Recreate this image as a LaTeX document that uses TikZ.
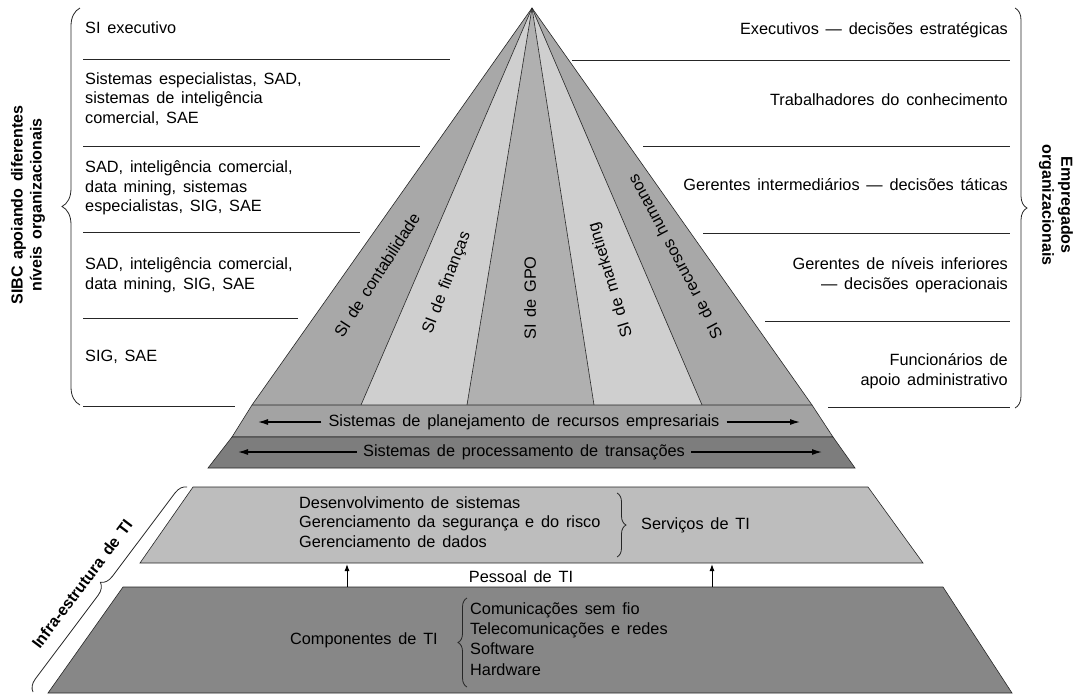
\documentclass[tikz,border=0pt]{standalone}
\usepackage{fontspec}
\setmainfont[WordSpace=1.5]{Liberation Sans}
\usetikzlibrary{arrows.meta,decorations.pathreplacing}

% grey tones of the layers
\definecolor{stripdark}{gray}{0.66}
\definecolor{striplight}{gray}{0.81}
\definecolor{stripmid}{gray}{0.69}
\definecolor{erpgray}{gray}{0.64}
\definecolor{tpsgray}{gray}{0.49}
\definecolor{svcgray}{gray}{0.74}
\definecolor{compgray}{gray}{0.53}
\definecolor{inkline}{gray}{0.15}

\begin{document}
\begin{tikzpicture}[x=1pt,y=-1pt,
  txt/.style={font=\fontsize{16.3}{19.5}\selectfont, inner sep=0pt},
  lbl/.style={txt, align=left, anchor=west},
  rlbl/.style={txt, align=right, anchor=east},
  bold/.style={font=\fontsize{16}{19}\selectfont\bfseries, inner sep=0pt, align=center},
  sepline/.style={draw=inkline, line width=0.8pt},
  edge/.style={draw=inkline, line width=0.6pt},
  bracefig/.style={draw=inkline, decorate, decoration={brace, amplitude=#1}, line width=0.8pt},
  arr/.style={-{Latex[length=10pt,width=6pt]}, line width=1.2pt},
  uparr/.style={-{Latex[length=7pt,width=5pt]}, line width=1pt},
]
\useasboundingbox (0,0) rectangle (1075,697);

% ---------- pyramid of functional systems ----------
\coordinate (apex) at (532,8);
\coordinate (b0) at (252,405);
\coordinate (b1) at (361,405);
\coordinate (b2) at (467,405);
\coordinate (b3) at (594,405);
\coordinate (b4) at (702,405);
\coordinate (b5) at (812,405);
\fill[stripdark]  (apex) -- (b0) -- (b1) -- cycle;
\fill[striplight] (apex) -- (b1) -- (b2) -- cycle;
\fill[stripmid]   (apex) -- (b2) -- (b3) -- cycle;
\fill[striplight] (apex) -- (b3) -- (b4) -- cycle;
\fill[stripdark]  (apex) -- (b4) -- (b5) -- cycle;
\foreach \b in {b1,b2,b3,b4} \draw[edge] (apex) -- (\b);
\draw[edge] (b0) -- (apex) -- (b5);

\node[txt, rotate=57]  (sicont) at (377,275) {SI de contabilidade};
\node[txt, rotate=69]  (sifin)  at (447,283) {SI de finanças};
\node[txt, rotate=90]  (sigpo)  at (530,298) {SI de GPO};
\node[txt, rotate=107] (simkt)  at (611,280) {SI de marketing};
\node[txt, rotate=118] (sirh)   at (675,257) {SI de recursos humanos};

% ---------- ERP and TPS bands ----------
\coordinate (e0) at (232,437);
\coordinate (e1) at (833,437);
\coordinate (t0) at (208,468);
\coordinate (t1) at (855,468);
\filldraw[fill=erpgray, edge] (b0) -- (b5) -- (e1) -- (e0) -- cycle;
\filldraw[fill=tpsgray, edge] (e0) -- (e1) -- (t1) -- (t0) -- cycle;

\node[txt, inner xsep=7pt] (erp) at (524,422) {Sistemas de planejamento de recursos empresariais};
\coordinate (erpL) at (258,422);
\coordinate (erpR) at (800,422);
\draw[arr] (erp.west) -- (erpL);
\draw[arr] (erp.east) -- (erpR);

\node[txt, inner xsep=6pt] (tps) at (524,452) {Sistemas de processamento de transações};
\coordinate (tpsL) at (238,452);
\coordinate (tpsR) at (822,452);
\draw[arr] (tps.west) -- (tpsL);
\draw[arr] (tps.east) -- (tpsR);

% ---------- left column: systems per level ----------
\draw[bracefig=18pt] (80,405) -- (80,8);
\node[bold, rotate=90] (sibc) at (28,205) {SIBC apoiando diferentes\\níveis organizacionais};

\node[lbl] (l1) at (85,28)  {SI executivo};
\node[lbl] (l2) at (85,99)  {Sistemas especialistas, SAD,\\sistemas de inteligência\\comercial, SAE};
\node[lbl] (l3) at (85,188) {SAD, inteligência comercial,\\data mining, sistemas\\especialistas, SIG, SAE};
\node[lbl] (l4) at (85,275) {SAD, inteligência comercial,\\data mining, SIG, SAE};
\node[lbl] (l5) at (85,357) {SIG, SAE};

\draw[sepline] (83,59)  -- (450,59);
\draw[sepline] (83,146) -- (420,146);
\draw[sepline] (83,232) -- (360,232);
\draw[sepline] (83,318) -- (298,318);
\draw[sepline] (83,406) -- (235,406);

% ---------- right column: employees per level ----------
\draw[bracefig=12pt] (1015,8) -- (1015,408);
\node[bold, rotate=-90] (empr) at (1056,205) {Empregados\\organizacionais};

\node[rlbl] (r1) at (1008,30)  {Executivos — decisões estratégicas};
\node[rlbl] (r2) at (1008,100) {Trabalhadores do conhecimento};
\node[rlbl] (r3) at (1008,185) {Gerentes intermediários — decisões táticas};
\node[rlbl] (r4) at (1008,275) {Gerentes de níveis inferiores\\— decisões operacionais};
\node[rlbl] (r5) at (1008,371) {Funcionários de\\apoio administrativo};

\draw[sepline] (572,60)  -- (1010,60);
\draw[sepline] (643,146) -- (1010,146);
\draw[sepline] (703,233) -- (1010,233);
\draw[sepline] (765,321) -- (1010,321);
\draw[sepline] (828,407) -- (1010,407);

% ---------- IT infrastructure ----------
\filldraw[fill=svcgray, edge] (193,487) -- (868,487) -- (923,563) -- (140,563) -- cycle;
\filldraw[fill=compgray, edge] (123,587) -- (943,587) -- (1012,693) -- (48,693) -- cycle;

\node[lbl] (svc) at (299,522) {Desenvolvimento de sistemas\\Gerenciamento da segurança e do risco\\Gerenciamento de dados};
\draw[bracefig=9pt] (617,493) -- (617,557);
\node[lbl] (svct) at (641,525) {Serviços de TI};

\node[txt] (pess) at (521,577) {Pessoal de TI};
\coordinate (a1b) at (347,587);
\coordinate (a1t) at (347,564);
\coordinate (a2b) at (712,587);
\coordinate (a2t) at (712,564);
\draw[uparr] (a1b) -- (a1t);
\draw[uparr] (a2b) -- (a2t);

\node[rlbl] (comp) at (438,640) {Componentes de TI};
\draw[bracefig=9pt] (467,687) -- (467,598);
\node[txt, align=left, anchor=west, font=\fontsize{16.3}{20.3}\selectfont] (compl) at (470,639)
  {Comunicações sem fio\\Telecomunicações e redes\\Software\\Hardware};

\draw[bracefig=12pt] (33,692) -- (187,487);
\node[bold, rotate=53] (infra) at (82,584) {Infra-estrutura de TI};

\end{tikzpicture}
\end{document}
